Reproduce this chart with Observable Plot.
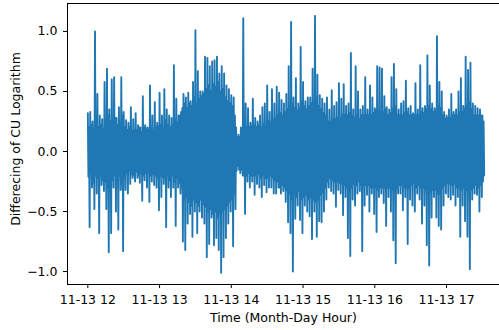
<!DOCTYPE html>
<html>
<head>
<meta charset="utf-8">
<script src="https://cdn.jsdelivr.net/npm/d3@7"></script>
<script src="https://cdn.jsdelivr.net/npm/@observablehq/plot@0.6"></script>
<style>
  html, body { margin: 0; padding: 0; background: #fff; }
  #chart svg { display: block; }
</style>
</head>
<body>
<div id="chart"></div>
<script>
// One value every 30 seconds, starting 11-13 12:00 (each row = 10 minutes)
const startHour = 12;
const stepSeconds = 30;
const diffValues = [
  0.32, -0.21, 0.2, -0.63, 0.33, -0.18, 0.22, -0.3, 0.25, -0.26, 0.18, -0.48, 1.0, -0.2, 0.24, -0.35, 0.48, -0.22, 0.2, -0.68,
  0.3, -0.2, 0.22, -0.28, 0.27, -0.24, 0.19, -0.33, 0.58, -0.25, 0.26, -0.48, 0.69, -0.3, 0.3, -0.84, 0.35, -0.22, 0.25, -0.68,
  0.6, -0.24, 0.2, -0.3, 0.62, -0.2, 0.28, -0.5, 0.28, -0.23, 0.22, -0.65, 0.37, -0.2, 0.24, -0.32, 0.62, -0.27, 0.3, -0.83,
  0.33, -0.2, 0.2, -0.32, 0.26, -0.18, 0.18, -0.35, 0.24, -0.16, 0.2, -0.27, 0.37, -0.19, 0.17, -0.22, 0.27, -0.2, 0.18, -0.25,
  0.32, -0.17, 0.18, -0.22, 0.22, -0.2, 0.2, -0.26, 0.2, -0.18, 0.16, -0.41, 0.46, -0.2, 0.2, -0.24, 0.22, -0.18, 0.19, -0.3,
  0.2, -0.17, 0.18, -0.42, 0.55, -0.2, 0.2, -0.25, 0.3, -0.19, 0.18, -0.28, 0.41, -0.2, 0.2, -0.3, 0.24, -0.22, 0.21, -0.49,
  0.49, -0.2, 0.22, -0.38, 0.3, -0.21, 0.2, -0.27, 0.52, -0.22, 0.26, -0.63, 0.35, -0.2, 0.22, -0.3, 0.3, -0.24, 0.2, -0.38,
  0.28, -0.2, 0.22, -0.3, 0.72, -0.25, 0.27, -0.62, 0.44, -0.22, 0.24, -0.3, 0.3, -0.26, 0.3, -0.35, 0.33, -0.3, 0.36, -0.75,
  0.48, -0.4, 0.4, -0.82, 0.45, -0.38, 0.36, -0.6, 0.49, -0.42, 0.4, -0.52, 0.42, -0.45, 0.38, -0.71, 0.58, -0.4, 0.45, -0.5,
  1.01, -0.42, 0.4, -0.68, 0.67, -0.45, 0.44, -0.5, 0.5, -0.4, 0.46, -0.55, 0.5, -0.44, 0.48, -0.6, 0.79, -0.46, 0.52, -0.88,
  0.78, -0.5, 0.55, -0.77, 0.71, -0.48, 0.5, -0.55, 0.75, -0.52, 0.56, -0.78, 0.76, -0.5, 0.54, -0.72, 0.79, -0.55, 0.58, -0.82,
  0.65, -0.52, 0.5, -1.01, 0.71, -0.5, 0.52, -0.88, 0.65, -0.48, 0.45, -0.72, 0.55, -0.45, 0.42, -0.6, 0.52, -0.42, 0.4, -0.5,
  0.47, -0.4, 0.38, -0.79, 0.45, -0.35, 0.3, -0.48, 0.2, -0.16, 0.12, -0.12, 0.14, -0.15, 0.12, -0.18, 0.2, -0.15, 0.16, -0.2,
  1.11, -0.2, 0.22, -0.52, 0.4, -0.2, 0.2, -0.25, 0.36, -0.18, 0.2, -0.3, 0.24, -0.2, 0.21, -0.25, 0.44, -0.2, 0.22, -0.36,
  0.28, -0.2, 0.2, -0.27, 0.25, -0.19, 0.22, -0.3, 0.3, -0.22, 0.2, -0.38, 0.37, -0.2, 0.23, -0.28, 0.4, -0.22, 0.2, -0.34,
  0.55, -0.22, 0.25, -0.3, 0.33, -0.2, 0.24, -0.3, 0.52, -0.22, 0.26, -0.35, 0.4, -0.24, 0.28, -0.35, 0.54, -0.25, 0.3, -0.3,
  0.49, -0.3, 0.32, -0.35, 0.43, -0.28, 0.3, -0.33, 0.4, -0.3, 0.33, -0.42, 0.48, -0.32, 0.35, -0.59, 0.71, -0.35, 0.38, -0.68,
  1.08, -0.4, 0.4, -1.0, 0.45, -0.35, 0.36, -0.56, 0.61, -0.38, 0.34, -0.45, 0.4, -0.33, 0.36, -0.57, 0.87, -0.4, 0.42, -0.68,
  0.58, -0.38, 0.38, -0.45, 0.42, -0.36, 0.35, -0.5, 0.45, -0.4, 0.38, -0.54, 0.45, -0.38, 0.4, -0.73, 0.69, -0.4, 0.42, -0.5,
  1.13, -0.42, 0.45, -0.71, 0.64, -0.4, 0.38, -0.58, 0.47, -0.36, 0.35, -0.59, 0.44, -0.34, 0.32, -0.5, 0.4, -0.3, 0.3, -0.4,
  0.45, -0.25, 0.25, -0.3, 0.35, -0.22, 0.24, -0.33, 0.51, -0.24, 0.26, -0.35, 0.38, -0.25, 0.27, -0.46, 0.41, -0.25, 0.28, -0.32,
  0.57, -0.26, 0.28, -0.35, 0.44, -0.27, 0.3, -0.53, 0.56, -0.28, 0.3, -0.38, 0.38, -0.3, 0.3, -0.72, 0.4, -0.3, 0.32, -0.87,
  0.82, -0.3, 0.3, -0.4, 0.35, -0.27, 0.28, -0.45, 0.71, -0.28, 0.3, -0.35, 0.5, -0.25, 0.27, -0.33, 0.35, -0.28, 0.3, -0.83,
  0.38, -0.28, 0.3, -0.45, 0.62, -0.28, 0.3, -0.36, 0.35, -0.28, 0.3, -0.5, 0.55, -0.3, 0.3, -0.35, 0.45, -0.3, 0.32, -0.52,
  0.36, -0.3, 0.34, -0.67, 0.71, -0.32, 0.33, -0.38, 0.7, -0.3, 0.32, -0.35, 0.69, -0.3, 0.33, -0.43, 0.46, -0.3, 0.35, -0.62,
  0.37, -0.3, 0.3, -0.38, 0.35, -0.3, 0.32, -0.5, 0.62, -0.32, 0.35, -0.74, 0.73, -0.33, 0.38, -0.93, 0.52, -0.3, 0.3, -0.35,
  0.35, -0.28, 0.3, -0.35, 0.4, -0.28, 0.3, -0.49, 0.42, -0.3, 0.32, -0.38, 0.59, -0.3, 0.33, -0.77, 0.36, -0.3, 0.3, -0.4,
  0.38, -0.28, 0.3, -0.45, 0.32, -0.26, 0.3, -0.5, 0.57, -0.3, 0.3, -0.35, 0.35, -0.28, 0.3, -0.4, 0.72, -0.3, 0.33, -0.6,
  0.36, -0.3, 0.32, -0.45, 0.38, -0.32, 0.35, -0.78, 0.8, -0.35, 0.38, -0.95, 0.55, -0.34, 0.35, -0.55, 0.4, -0.32, 0.33, -0.38,
  0.36, -0.32, 0.34, -0.55, 0.96, -0.35, 0.38, -0.62, 0.58, -0.35, 0.36, -0.65, 0.5, -0.3, 0.3, -0.45, 0.33, -0.28, 0.27, -0.35,
  0.3, -0.26, 0.28, -0.38, 0.35, -0.27, 0.28, -0.4, 0.48, -0.28, 0.3, -0.36, 0.33, -0.27, 0.3, -0.45, 0.35, -0.3, 0.3, -0.38,
  0.5, -0.3, 0.33, -0.71, 0.61, -0.32, 0.33, -0.45, 0.38, -0.3, 0.35, -0.58, 0.79, -0.32, 0.38, -0.71, 0.68, -0.33, 0.4, -0.98,
  0.74, -0.32, 0.35, -0.4, 0.4, -0.3, 0.3, -0.35, 0.38, -0.28, 0.3, -0.36, 0.36, -0.3, 0.3, -0.5, 0.35, -0.28, 0.3, -0.38,
  0.3, -0.25, 0.25, -0.2
];
const xTickHours = [12, 13, 14, 15, 16, 17];
const yTicks = [-1.0, -0.5, 0.0, 0.5, 1.0];
const xLabel = "Time (Month-Day Hour)";
const yLabel = "Differecing of CU Logarithm";

const T = (h, m = 0, s = 0) => new Date(Date.UTC(2019, 10, 13, h, m, s));
const data = diffValues.map((v, i) => ({ t: T(startHour, 0, i * stepSeconds), v }));
const xDomain = [T(11, 43, 0), T(17, 44, 18)];
const yDomain = [-1.108, 1.233];
const fmt = d3.utcFormat("%m-%d %H");

const chart = Plot.plot({
  width: 499,
  height: 330,
  marginLeft: 67,
  marginRight: 0,
  marginTop: 3,
  marginBottom: 46,
  style: { fontFamily: "DejaVu Sans", fontSize: "12.5px", color: "#000", background: "#fff" },
  x: {
    type: "utc",
    domain: xDomain,
    ticks: xTickHours.map(h => T(h)),
    tickFormat: fmt,
    tickSize: 4,
    tickPadding: 7,
    label: null
  },
  y: {
    domain: yDomain,
    ticks: yTicks,
    tickFormat: d => d3.format(".1f")(d),
    tickSize: 4,
    tickPadding: 6,
    label: null
  },
  marks: [
    Plot.line(data, { x: "t", y: "v", stroke: "#1f77b4", strokeWidth: 1.9 }),
    Plot.ruleX([xDomain[0]], { stroke: "#000", strokeWidth: 1 }),
    Plot.ruleY([yDomain[0]], { stroke: "#000", strokeWidth: 1 }),
    Plot.ruleY([yDomain[1]], { stroke: "#000", strokeWidth: 1 }),
    Plot.text([xLabel], { frameAnchor: "bottom", lineAnchor: "middle", textAnchor: "middle", dy: 33, text: d => d, fontSize: 12.5, fill: "#000" }),
    Plot.text([yLabel], { frameAnchor: "left", textAnchor: "middle", lineAnchor: "middle", dx: -52, dy: -5, rotate: -90, text: d => d, fontSize: 12.5, fill: "#000" })
  ]
});
document.getElementById("chart").appendChild(chart);
</script>
</body>
</html>
